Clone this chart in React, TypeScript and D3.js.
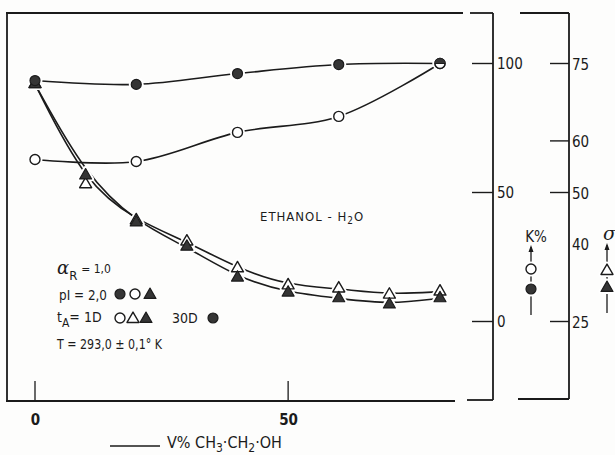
import React from "react";
import * as d3 from "d3";

// volume % ethanol
const xs = [0, 10, 20, 30, 40, 50, 60, 70, 80];
const xCircle = [0, 20, 40, 60, 80];
// K% (circles)
const kFilled = [93.4, 91.9, 96.1, 99.6, 100];
const kOpen = [62.8, 62.0, 73.3, 79.5, 100];
// sigma (triangles)
const sigmaOpen = [71.0, 51.6, 44.6, 40.5, 35.3, 32.0, 31.4, 30.2, 30.8];
const sigmaFilled = [71.0, 53.3, 44.2, 39.5, 33.5, 30.6, 29.5, 28.3, 29.5];

const xTicks = [0, 50];
const kTicks = [0, 50, 100];
const sigmaTicks = [25, 50, 60, 75];
const sigmaLabels = [25, 40, 50, 60, 75];

const INK = "#1b1b1b";
const FILL = "#353535";
const FONT = "'DejaVu Sans Condensed', 'DejaVu Sans', sans-serif";

const xScale = d3.scaleLinear().domain([0, 80]).range([35, 440]);
const kScale = d3.scaleLinear().domain([0, 100]).range([321.5, 63.5]);
const sScale = d3.scaleLinear().domain([25, 75]).range([321.5, 63.5]);

const tri = d3.symbol(d3.symbolTriangle, 62)()!;
const halfTop = d3.arc()({ innerRadius: 0, outerRadius: 5, startAngle: -Math.PI / 2, endAngle: Math.PI / 2 })!;

const Marker = ({ kind, x, y, halo }: { kind: string; x: number; y: number; halo?: boolean }) => {
  const t = `translate(${x},${y})`;
  const stroke = halo ? "white" : INK;
  if (kind === "oc")
    return <circle cx={x} cy={y} r={5} fill="white" stroke={stroke} strokeWidth={halo ? 5 : 1.4} />;
  if (kind === "fc")
    return <circle cx={x} cy={y} r={5} fill={halo ? "white" : FILL} stroke={stroke} strokeWidth={halo ? 5 : 1.2} />;
  if (kind === "hc")
    return (
      <g transform={t}>
        <circle r={5} fill="white" stroke={stroke} strokeWidth={halo ? 5 : 1.4} />
        {!halo && <path d={halfTop} fill={FILL} />}
        {!halo && <line x1={-5} x2={5} y1={0} y2={0} stroke={INK} strokeWidth={1} />}
      </g>
    );
  if (kind === "ot")
    return <path d={tri} transform={t} fill="white" stroke={stroke} strokeWidth={halo ? 5 : 1.4} strokeLinejoin="round" />;
  return <path d={tri} transform={t} fill={halo ? "white" : FILL} stroke={stroke} strokeWidth={halo ? 5 : 1.2} strokeLinejoin="round" />;
};

export default function App() {
  const circLine = d3
    .line<number>()
    .x((_, i) => xScale(xCircle[i]))
    .y((d) => kScale(d))
    .curve(d3.curveCatmullRom.alpha(0.5));
  const triLine = d3
    .line<number>()
    .x((_, i) => xScale(xs[i]))
    .y((d) => sScale(d))
    .curve(d3.curveBasis);

  const markers: { kind: string; x: number; y: number }[] = [];
  xs.forEach((x, i) => {
    markers.push({ kind: "ot", x: xScale(x), y: sScale(sigmaOpen[i]) });
    markers.push({ kind: "ft", x: xScale(x), y: sScale(sigmaFilled[i]) });
  });
  xCircle.forEach((x, i) => {
    markers.push({ kind: "oc", x: xScale(x), y: kScale(kOpen[i]) });
    markers.push({ kind: i === xCircle.length - 1 ? "hc" : "fc", x: xScale(x), y: kScale(kFilled[i]) });
  });

  const lineStyle = { fill: "none", stroke: INK, strokeWidth: 1.6 };

  return (
    <svg width={615} height={455} style={{ position: "absolute", left: 0, top: 0, background: "#fdfdfc" }} fontFamily={FONT}>
      {/* frame */}
      <g stroke={INK} strokeWidth={1.8} fill="none">
        <line x1={7} x2={7} y1={13} y2={401} />
        <line x1={6} x2={463} y1={13} y2={13} />
        <line x1={470} x2={493} y1={13} y2={13} />
        <line x1={520} x2={569} y1={13} y2={13} />
        <line x1={6} x2={455} y1={401} y2={401} />
        <line x1={467} x2={493} y1={400} y2={400} />
        <line x1={518} x2={569} y1={399} y2={399} />
        <line x1={493} x2={493} y1={13} y2={400} />
        <line x1={569} x2={569} y1={13} y2={399} />
      </g>

      {/* x axis */}
      {xTicks.map((t) => (
        <g key={t}>
          <line x1={xScale(t)} x2={xScale(t)} y1={381} y2={401} stroke={INK} strokeWidth={1.3} />
          <text x={xScale(t) + 0.5} y={425} textAnchor="middle" fontSize={15} fontWeight="bold" fill={INK}>
            {t}
          </text>
        </g>
      ))}
      <line x1={110} x2={160} y1={446} y2={446} stroke={INK} strokeWidth={1.3} />
      <text x={167} y={448} fontSize={16} fill={INK}>
        V% CH<tspan fontSize={12} dy={3.5}>3</tspan>
        <tspan dy={-3.5}>·CH</tspan>
        <tspan fontSize={12} dy={3.5}>2</tspan>
        <tspan dy={-3.5}>·OH</tspan>
      </text>

      {/* K% axis */}
      {kTicks.map((t) => (
        <g key={t}>
          <line x1={472} x2={493} y1={kScale(t)} y2={kScale(t)} stroke={INK} strokeWidth={1.4} />
          <text x={497} y={kScale(t) + 5.5} fontSize={15} fill={INK}>
            {t}
          </text>
        </g>
      ))}
      {/* sigma axis */}
      {sigmaTicks.map((t) => (
        <line key={t} x1={550} x2={569} y1={sScale(t)} y2={sScale(t)} stroke={INK} strokeWidth={1.4} />
      ))}
      {sigmaLabels.map((t) => (
        <text key={t} x={572} y={sScale(t) + 6} fontSize={15} fill={INK}>
          {t}
        </text>
      ))}

      {/* curves */}
      <path d={circLine(kFilled)!} {...lineStyle} />
      <path d={circLine(kOpen)!} {...lineStyle} />
      <path d={triLine(sigmaOpen)!} {...lineStyle} />
      <path d={triLine(sigmaFilled)!} {...lineStyle} />

      {markers.map((m, i) => (
        <Marker key={"h" + i} {...m} halo />
      ))}
      {markers.map((m, i) => (
        <Marker key={"m" + i} {...m} />
      ))}

      {/* annotations */}
      <text x={260} y={221} fontSize={13} fill={INK} letterSpacing={1}>
        ETHANOL - H<tspan fontSize={10} dy={3}>2</tspan>
        <tspan dy={-3}>O</tspan>
      </text>

      <g fill={INK} fontSize={14}>
        <text x={57} y={274}>
          <tspan fontFamily="'DejaVu Serif', serif" fontStyle="italic" fontSize={18}>α</tspan>
          <tspan fontSize={13} dy={6}>R</tspan>
          <tspan fontSize={12} dy={-7} dx={4}>= 1,0</tspan>
        </text>
        <text x={59} y={300} textLength={48} lengthAdjust="spacingAndGlyphs">pI = 2,0</text>
        <text x={57} y={322}>
          t<tspan fontSize={12} dy={5}>A</tspan>
          <tspan dy={-5}>= 1D</tspan>
        </text>
        <text x={172} y={323}>30D</text>
        <text x={57} y={349} textLength={105} lengthAdjust="spacingAndGlyphs">
          T = 293,0 ± 0,1° K
        </text>
      </g>
      <Marker kind="fc" x={120} y={294} />
      <Marker kind="oc" x={135} y={294} />
      <Marker kind="ft" x={150} y={295} />
      <Marker kind="oc" x={120} y={318} />
      <Marker kind="ot" x={133} y={319} />
      <Marker kind="ft" x={146} y={319} />
      <Marker kind="fc" x={213} y={318} />

      {/* K% key */}
      <text x={536} y={242} textAnchor="middle" fontSize={15} fill={INK}>
        K%
      </text>
      <line x1={531} x2={531} y1={247} y2={315} stroke={INK} strokeWidth={1.3} />
      <path d="M531,245 L528.5,252 L533.5,252 Z" fill={INK} />
      <Marker kind="oc" x={531} y={269} halo />
      <Marker kind="fc" x={531} y={289} halo />
      <Marker kind="oc" x={531} y={269} />
      <Marker kind="fc" x={531} y={289} />

      {/* sigma key */}
      <text x={603} y={240} fontSize={19} fontStyle="italic" fontFamily="'DejaVu Serif', serif" fill={INK}>
        σ
      </text>
      <line x1={607} x2={607} y1={245} y2={313} stroke={INK} strokeWidth={1.3} />
      <path d="M607,243 L604.5,250 L609.5,250 Z" fill={INK} />
      <Marker kind="ot" x={607} y={271} halo />
      <Marker kind="ft" x={607} y={288} halo />
      <Marker kind="ot" x={607} y={271} />
      <Marker kind="ft" x={607} y={288} />
    </svg>
  );
}
